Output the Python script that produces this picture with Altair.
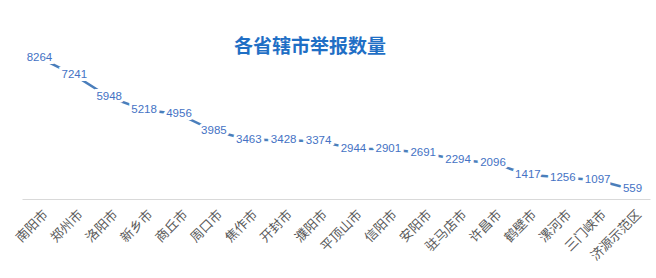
import altair as alt
import pandas as pd

cities = ["南阳市", "郑州市", "洛阳市", "新乡市", "商丘市", "周口市", "焦作市", "开封市", "濮阳市",
          "平顶山市", "信阳市", "安阳市", "驻马店市", "许昌市", "鹤壁市", "漯河市", "三门峡市", "济源示范区"]
counts = [8264, 7241, 5948, 5218, 4956, 3985, 3463, 3428, 3374,
          2944, 2901, 2691, 2294, 2096, 1417, 1256, 1097, 559]
title_text = "各省辖市举报数量"

df = pd.DataFrame({"city": cities, "count": counts})

x = alt.X("city:N", sort=None, title=None,
          scale=alt.Scale(paddingInner=0, paddingOuter=0),
          axis=alt.Axis(labelAngle=-45, labelAlign="right", labelBaseline="middle",
                        labelFont="Noto Sans CJK SC", labelFontSize=13, labelColor="#595959",
                        labelPadding=13, labelOffset=6, ticks=False,
                        domainColor="#D9D9D9", domainWidth=1))
y = alt.Y("count:Q", title=None, scale=alt.Scale(domain=[0, 9000], nice=False),
          axis=None)

base = alt.Chart(df).encode(x=x, y=y)

line = base.mark_line(color="#4A7EBB", strokeWidth=2.5)
halo = base.mark_text(font="Liberation Sans", fontSize=11.5, color="white",
                      stroke="white", strokeWidth=6).encode(text="count:Q")
labels = base.mark_text(font="Liberation Sans", fontSize=11.5, color="#4472C4").encode(text="count:Q")

title = alt.Chart(pd.DataFrame({"t": [title_text]})).mark_text(
    font="Noto Sans CJK SC", fontSize=19, fontWeight="bold", color="#1F6FC5",
    align="center", baseline="middle"
).encode(x=alt.value(288), y=alt.value(2), text="t:N")

chart = alt.layer(line, halo, labels, title).properties(
    width=628, height=154,
    padding={"left": 22, "top": 45, "right": 6, "bottom": 79},
    autosize=alt.AutoSizeParams(type="none"),
    background="white"
).configure_view(stroke=None)

chart.save("out.html", embed_options={"renderer": "svg", "actions": False})
